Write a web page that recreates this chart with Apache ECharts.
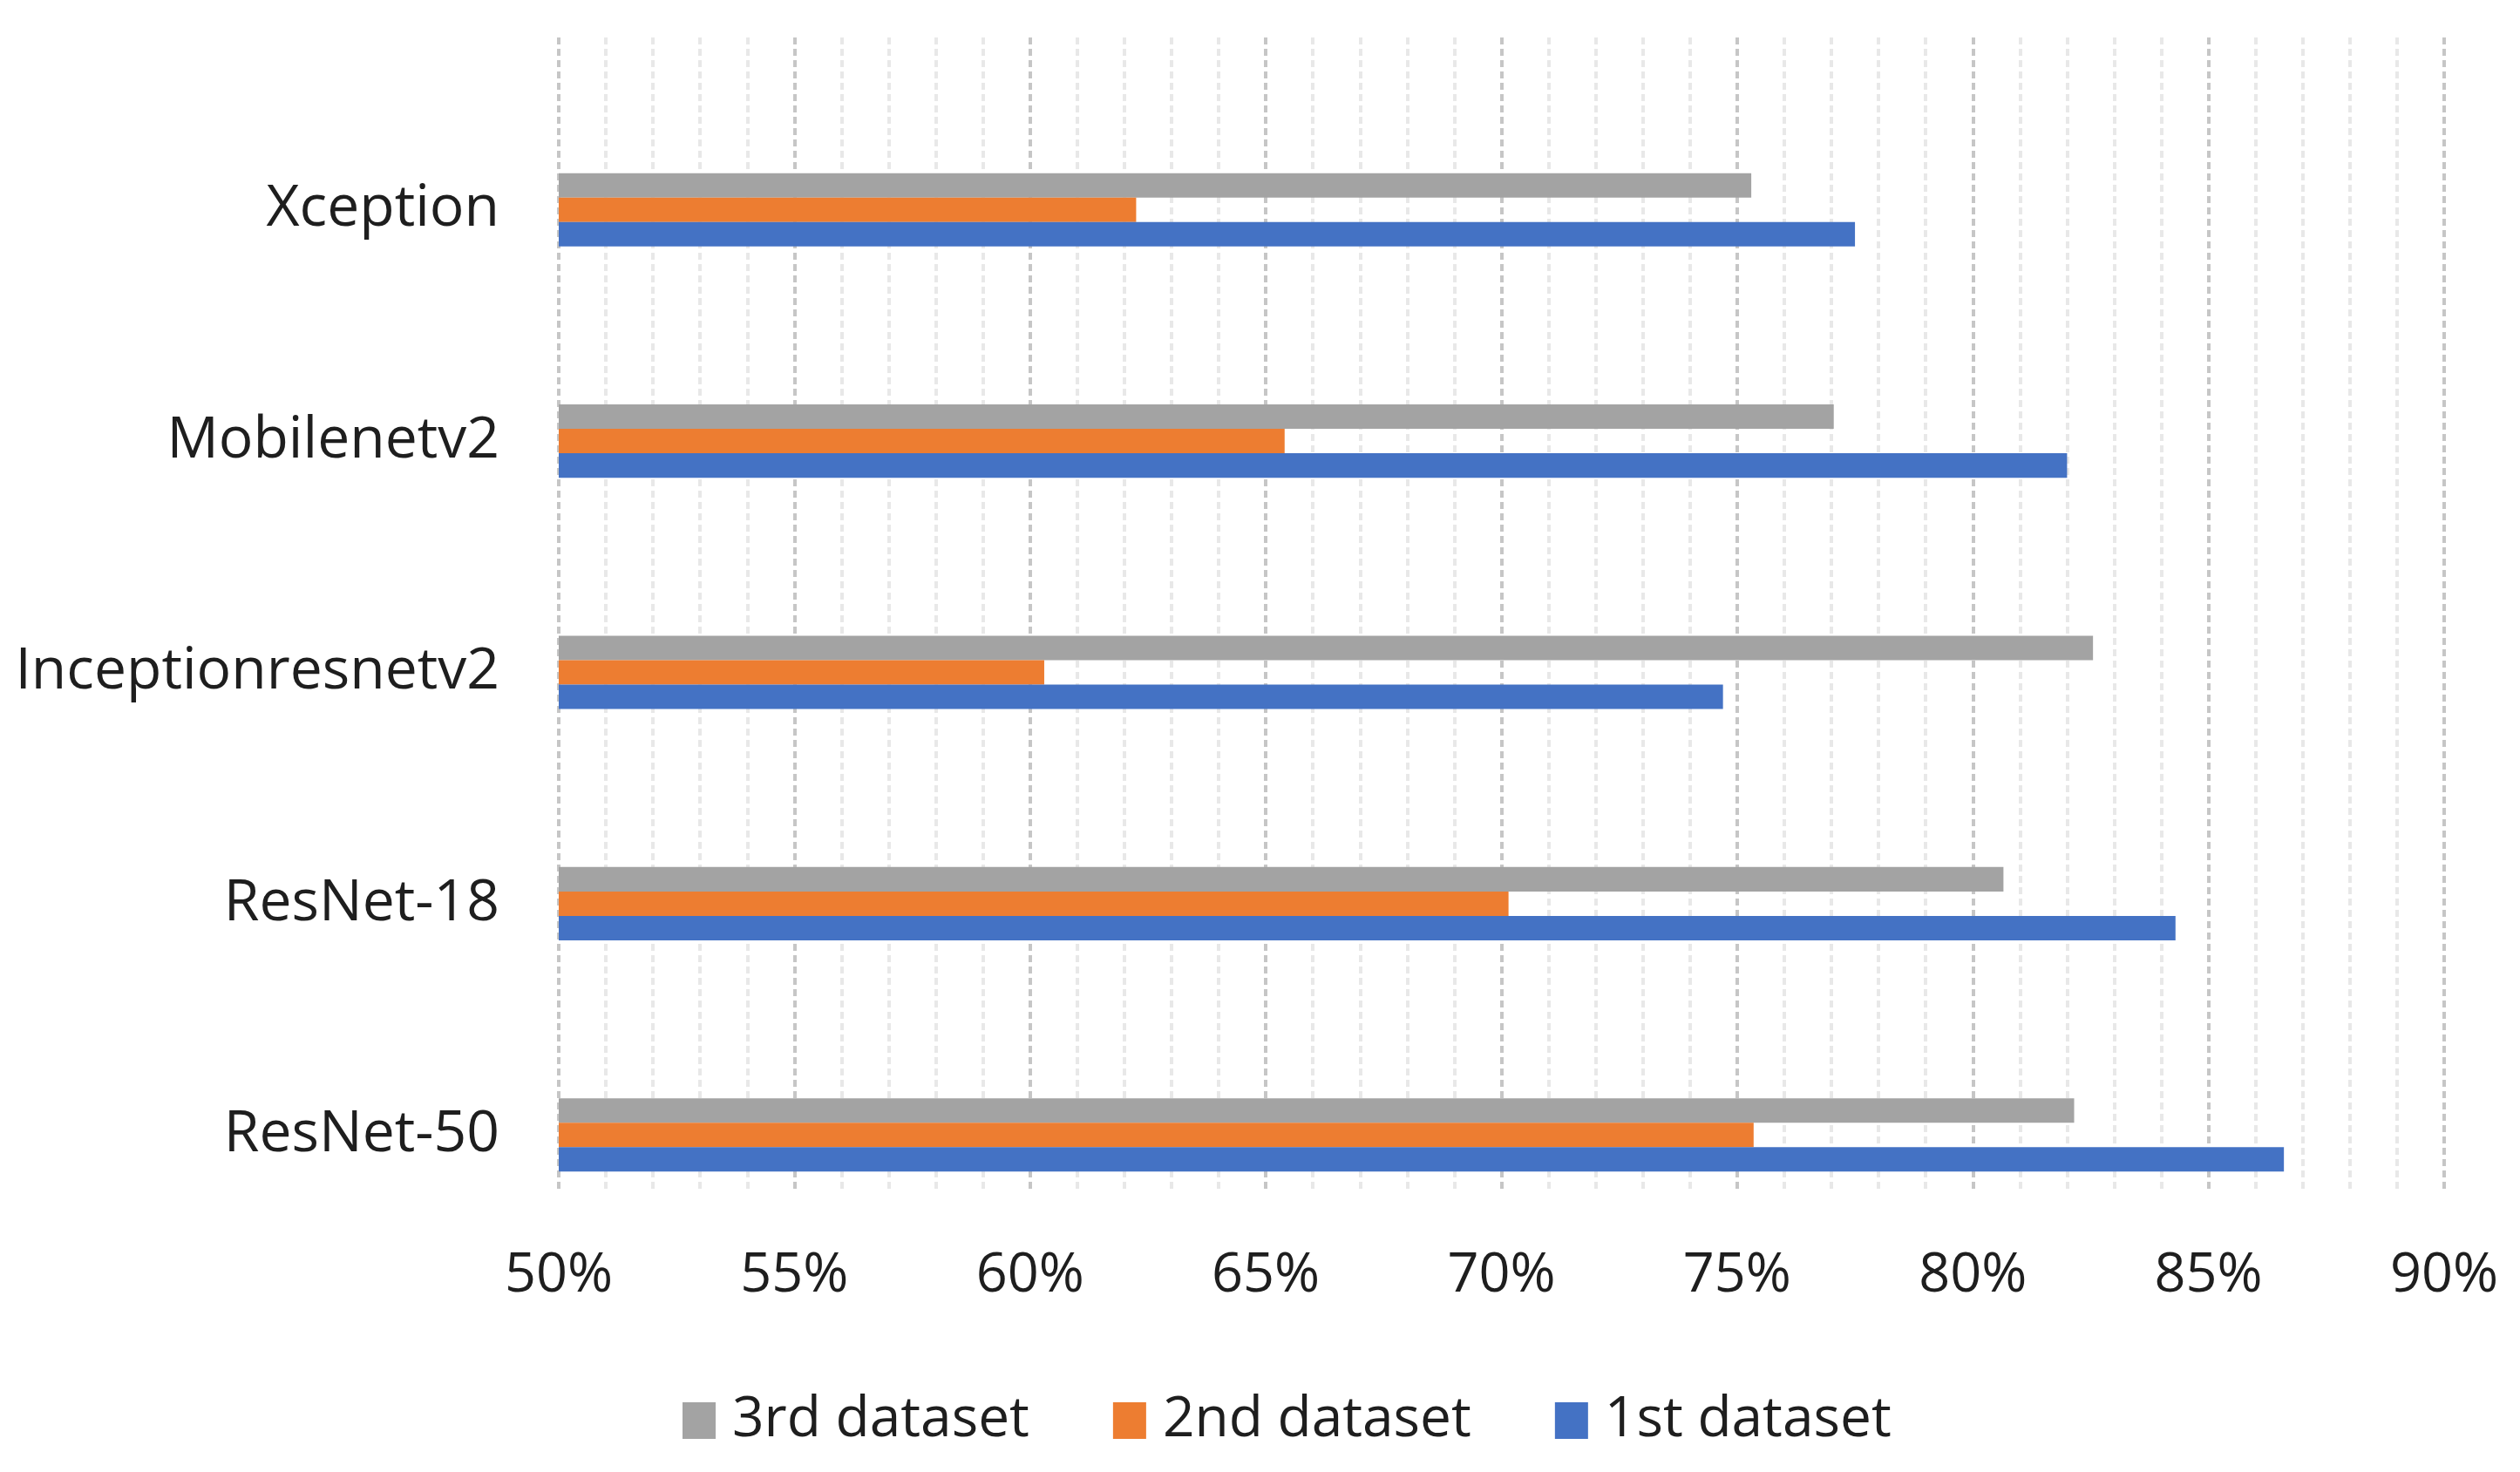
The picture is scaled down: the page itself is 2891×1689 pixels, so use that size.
<!DOCTYPE html>
<html>
<head>
<meta charset="utf-8">
<script src="https://cdn.jsdelivr.net/npm/echarts@6/dist/echarts.min.js"></script>
<style>
html,body{margin:0;padding:0;background:#fff;}
#chart{width:2891px;height:1689px;}
</style>
</head>
<body>
<div id="chart"></div>
<script>
const categories = ['ResNet-50', 'ResNet-18', 'Inceptionresnetv2', 'Mobilenetv2', 'Xception'];
const seriesNames = ['3rd dataset', '2nd dataset', '1st dataset'];
const thirdDataset = [82.15, 80.65, 82.55, 77.05, 75.3];
const secondDataset = [75.35, 70.15, 60.3, 65.4, 62.25];
const firstDataset = [86.6, 84.3, 74.7, 82.0, 77.5];
const xTicks = [50, 55, 60, 65, 70, 75, 80, 85, 90];

const colors = ['#A3A3A3', '#ED7D31', '#4472C4'];
const font = '"Open Sans", "Noto Sans", sans-serif';

const chart = echarts.init(document.getElementById('chart'), null, {renderer: 'canvas'});
const values = [thirdDataset, secondDataset, firstDataset];
const xMin = xTicks[0], xMax = xTicks[xTicks.length - 1];
chart.setOption({
  animation: false,
  backgroundColor: '#ffffff',
  grid: [
    {left: 641, right: 87, top: 108, bottom: 254, containLabel: false},
    {left: 641, right: 87, top: 43, bottom: 322, containLabel: false}
  ],
  legend: {
    data: seriesNames,
    bottom: 22,
    left: 778,
    itemWidth: 38,
    itemHeight: 42,
    itemGap: 96,
    icon: 'rect',
    textStyle: {fontFamily: font, fontSize: 64, color: '#1e1e1e', padding: [0, 0, 0, 14]}
  },
  xAxis: [
    {
      type: 'value', gridIndex: 0, min: xMin, max: xMax, interval: 5,
      axisLine: {show: false}, axisTick: {show: false}, axisLabel: {show: false},
      splitLine: {show: false}
    },
    {
      type: 'value', gridIndex: 1, min: xMin, max: xMax, interval: 5,
      axisLine: {show: false},
      axisTick: {show: false},
      axisLabel: {
        formatter: v => v + '%',
        fontFamily: font, fontSize: 63, color: '#1e1e1e', margin: 66
      },
      splitLine: {show: true, lineStyle: {color: '#C6C6C6', width: 4, type: [8, 5]}},
      minorTick: {show: false, splitNumber: 5},
      minorSplitLine: {show: true, lineStyle: {color: '#E8E8E8', width: 4, type: [8, 5]}}
    }
  ],
  yAxis: [
    {
      type: 'category', gridIndex: 0,
      data: categories,
      axisLine: {show: false},
      axisTick: {show: false},
      axisLabel: {fontFamily: font, fontSize: 66, color: '#1e1e1e', margin: 68},
      splitLine: {show: false}
    },
    {
      type: 'category', gridIndex: 1, data: categories,
      axisLine: {show: false}, axisTick: {show: false}, axisLabel: {show: false}, splitLine: {show: false}
    }
  ],
  series: seriesNames.map((name, i) => ({
    name: name,
    type: 'bar',
    xAxisIndex: 0,
    yAxisIndex: 0,
    data: values[i],
    barGap: '0%',
    barCategoryGap: '68.3%',
    z: 3,
    itemStyle: {color: colors[i]}
  }))
});
</script>
</body>
</html>
